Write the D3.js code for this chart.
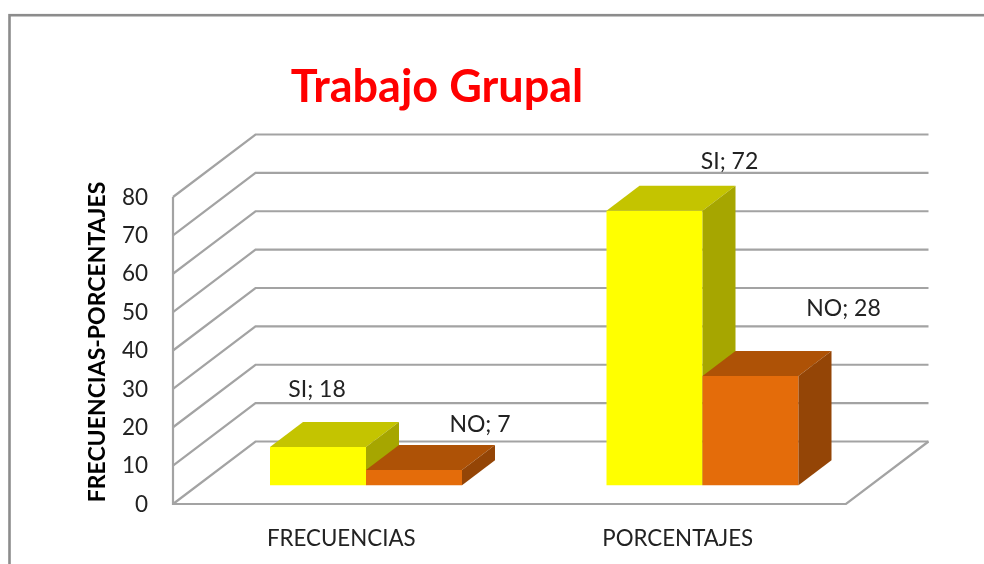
<!DOCTYPE html>
<html>
<head>
<meta charset="utf-8">
<script src="https://cdn.jsdelivr.net/npm/d3@7"></script>
<style>
  html, body { margin: 0; padding: 0; background: #fff; overflow: hidden; }
  svg { display: block; filter: blur(0.45px); }
  text { font-family: Lato, "Open Sans", sans-serif; fill: #222; }
</style>
</head>
<body>
<div id="chart"></div>
<script>
const categories = ["FRECUENCIAS", "PORCENTAJES"];
const seriesNames = ["SI", "NO"];
// the drawn bars of FRECUENCIAS are shorter than their labels say, as in the picture
const siHeights = [10, 71.5];
const noHeights = [4, 28.5];
const siLabels = [18, 72];
const noLabels = [7, 28];
const yTicks = [0, 10, 20, 30, 40, 50, 60, 70, 80];
const chartTitle = "Trabajo Grupal";
const yTitle = "FRECUENCIAS-PORCENTAJES";

const width = 984, height = 564;

// front plane of the 3d box, and how far the back wall is shifted
const front = {left: 173, right: 846, bottom: 504, top: 197};
const depth = {x: 82.5, y: -62.5};
const barDepth = [0.3, 0.7]; // bars stand in this part of the floor
const barWidth = 96;

const xScale = d3.scaleBand().domain(categories).range([front.left, front.right]);
const yScale = d3.scaleLinear().domain([0, 80]).range([front.bottom, front.top]);
const xAxis = d3.axisBottom(xScale).tickSize(0).tickPadding(0);
const yAxis = d3.axisLeft(yScale).tickValues(yTicks).tickSize(0).tickPadding(0);
const line = d3.line();

// x pixel, value, depth 0-1 -> screen point
function project(px, value, d) {
    return [px + depth.x * d, yScale(value) + depth.y * d];
}

const svg = d3.select("#chart").append("svg")
    .attr("width", width)
    .attr("height", height);

// outer frame runs off the right and bottom of the picture
svg.append("rect")
    .attr("x", 9.5).attr("y", 15.2)
    .attr("width", width).attr("height", height)
    .attr("fill", "#fff")
    .attr("stroke", "#8c8c8c")
    .attr("stroke-width", 2.6);

svg.append("text")
    .attr("x", 437).attr("y", 102)
    .attr("text-anchor", "middle")
    .attr("font-size", 45)
    .attr("font-weight", 700)
    .style("fill", "#ff0000")
    .text(chartTitle);

// walls and floor
let grid = svg.append("g")
    .attr("fill", "none")
    .attr("stroke", "#a3a3a3")
    .attr("stroke-width", 2.2);

grid.selectAll(".wall")
    .data(yTicks)
    .join("path")
    .attr("class", "wall")
    .attr("d", t => line([
        project(front.left, t, 0),
        project(front.left, t, 1),
        project(front.right, t, 1)
    ]));

grid.append("path")
    .attr("d", line([
        project(front.left, 80, 0),
        project(front.left, 0, 0),
        project(front.right, 0, 0),
        project(front.right, 0, 1)
    ]));

// bars, SI first so NO sits over its side face
const series = [
    {name: seriesNames[0], heights: siHeights, labels: siLabels,
     front: "#ffff00", top: "#c4c400", side: "#a6a600", offset: 0},
    {name: seriesNames[1], heights: noHeights, labels: noLabels,
     front: "#e46c0a", top: "#ae5206", side: "#944506", offset: barWidth}
];

function barFaces(s, i) {
    let x0 = xScale(categories[i]) + xScale.bandwidth() / 2 - barWidth + s.offset;
    let x1 = x0 + barWidth;
    let v = s.heights[i];
    let [d0, d1] = barDepth;
    return [
        {fill: s.front, pts: [project(x0, 0, d0), project(x0, v, d0), project(x1, v, d0), project(x1, 0, d0)]},
        {fill: s.top, pts: [project(x0, v, d0), project(x0, v, d1), project(x1, v, d1), project(x1, v, d0)]},
        {fill: s.side, pts: [project(x1, 0, d0), project(x1, v, d0), project(x1, v, d1), project(x1, 0, d1)]}
    ];
}

series.forEach(s => {
    categories.forEach((c, i) => {
        svg.append("g").selectAll("path")
            .data(barFaces(s, i))
            .join("path")
            .attr("fill", d => d.fill)
            .attr("d", d => line(d.pts) + "Z");
    });
});

// data labels were moved by hand in the original: shift from the bar's front top centre
const labelShift = {
    SI: [[-1, -50], [75, -42]],
    NO: [[66, -38], [93, -60]]
};

series.forEach(s => {
    categories.forEach((c, i) => {
        let cx = xScale(c) + xScale.bandwidth() / 2 - barWidth / 2 + s.offset;
        let [px, py] = project(cx, s.heights[i], barDepth[0]);
        svg.append("text")
            .attr("x", px + labelShift[s.name][i][0])
            .attr("y", py + labelShift[s.name][i][1])
            .attr("text-anchor", "middle")
            .attr("font-size", 23)
            .text(s.name + "; " + s.labels[i]);
    });
});

// axes
let yG = svg.append("g")
    .attr("transform", "translate(148,0)")
    .call(yAxis);
yG.select(".domain").remove();
yG.selectAll("text")
    .attr("font-size", 22.5)
    .attr("dy", "0.32em")
    .style("font-family", "Lato")
    .style("fill", "#222");

let xG = svg.append("g")
    .attr("transform", "translate(0,530)")
    .call(xAxis);
xG.select(".domain").remove();
xG.selectAll("text")
    .attr("font-size", 22.3)
    .attr("dy", "0.71em")
    .style("font-family", "Lato")
    .style("fill", "#222");

svg.append("text")
    .attr("transform", "translate(105,342) rotate(-90)")
    .attr("text-anchor", "middle")
    .attr("font-size", 23)
    .attr("font-weight", 700)
    .style("fill", "#000")
    .text(yTitle);
</script>
</body>
</html>
